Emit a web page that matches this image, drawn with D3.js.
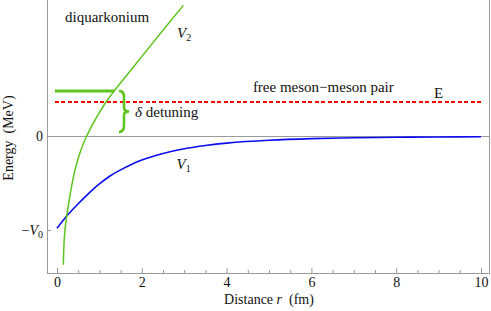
<!DOCTYPE html>
<html>
<head>
<meta charset="utf-8">
<script src="https://cdn.jsdelivr.net/npm/d3@7"></script>
<style>
    html, body { margin: 0; padding: 0; background: #fff; }
    svg text { font-family: "Liberation Serif", "Times New Roman", "DejaVu Serif", serif; fill: #111; }
</style>
</head>
<body>
<svg id="chart" width="491" height="311"></svg>
<script>
// -----------------------------
//  DATA (energies in units of V0)
// -----------------------------
const v1R = [0, 0.25, 0.5, 0.75, 1, 1.25, 1.5, 2, 2.5, 3, 3.5, 4, 5, 6, 7, 8, 9, 10];
const v1E = [-0.98, -0.84, -0.72, -0.61, -0.51, -0.425, -0.36, -0.255, -0.185, -0.135, -0.10, -0.075, -0.045, -0.028, -0.019, -0.013, -0.010, -0.008];

const v2R = [0.15, 0.16, 0.18, 0.21, 0.25, 0.33, 0.425, 0.54, 0.70, 0.94, 1.16, 1.35, 1.76, 2.31, 2.98];
const v2E = [-1.37, -1.20, -1.04, -0.91, -0.79, -0.57, -0.36, -0.18, 0, 0.205, 0.365, 0.48, 0.71, 1.02, 1.39];

const thresholdE = 0.365;        // free meson-meson pair, E
const thresholdR = [-0.05, 10];
const boundE = 0.48;             // diquarkonium level
const boundR = [-0.05, 1.35];

const xMajor = [0, 2, 4, 6, 8, 10];
const xMinor = d3.range(0, 10.01, 0.5).filter((t) => t % 2 !== 0);
const yTicks = [0, -1];

// -----------------------------
//  LAYOUT
// -----------------------------
const svg = d3.select("#chart");
const frame = { left: 47, right: 489, top: 0, bottom: 273 };

const x = d3.scaleLinear().domain([0, 10]).range([57, 481]);
const y = d3.scaleLinear().domain([-1.457, 1.447]).range([frame.bottom, frame.top]);

const green = "#5ec41e";
const blue = "#0c0cf0";
const grey = "#9a9a9a";

// frame + zero line
svg.append("path")
    .attr("d", `M${frame.left},${frame.top}V${frame.bottom}H${frame.right}V${frame.top}`)
    .attr("fill", "none")
    .attr("stroke", grey)
    .attr("stroke-width", 1)
    .attr("shape-rendering", "crispEdges");

svg.append("line")
    .attr("x1", frame.left).attr("x2", frame.right)
    .attr("y1", Math.round(y(0)) + 0.5).attr("y2", Math.round(y(0)) + 0.5)
    .attr("stroke", grey)
    .attr("stroke-width", 1);

// -----------------------------
//  AXES
// -----------------------------
const xAxis = svg.append("g")
    .attr("transform", `translate(0,${frame.bottom})`)
    .call(d3.axisBottom(x).tickValues(xMajor).tickSize(-5).tickPadding(4).tickFormat(d3.format("d")));

svg.append("g")
    .attr("transform", `translate(0,${frame.bottom})`)
    .call(d3.axisBottom(x).tickValues(xMinor).tickSize(-3).tickFormat(""));

const yAxis = svg.append("g")
    .attr("transform", `translate(${frame.left},0)`)
    .call(d3.axisLeft(y).tickValues(yTicks).tickSize(-4).tickPadding(4).tickFormat(""));

svg.selectAll(".domain").remove();
svg.selectAll(".tick line").attr("stroke", grey);
xAxis.selectAll(".tick text")
    .attr("font-size", 14)
    .attr("fill", "#111");

// y tick labels: 0 and -V0
yAxis.selectAll(".tick text").each(function (d) {
    const t = d3.select(this)
        .attr("font-size", 14)
        .attr("fill", "#111")
        .attr("x", -4)
        .attr("dy", "0.35em");
    if (d === 0) {
        t.text("0");
    } else {
        t.text("");
        t.append("tspan").text("\u2212");
        t.append("tspan").attr("font-style", "italic").text("V");
        t.append("tspan").attr("font-size", 10).attr("dy", 3).text("0");
    }
});
svg.selectAll("g").attr("font-family", null);

// axis titles
const xTitle = svg.append("text")
    .attr("x", (x(0) + x(10)) / 2)
    .attr("y", 304)
    .attr("text-anchor", "middle")
    .attr("font-size", 14)
    .style("white-space", "pre");
xTitle.append("tspan").text("Distance ");
xTitle.append("tspan").attr("font-style", "italic").text("r");
xTitle.append("tspan").text("  (fm)");

svg.append("text")
    .attr("transform", `translate(13,${y(0) + 2}) rotate(-90)`)
    .attr("text-anchor", "middle")
    .attr("font-size", 14)
    .style("white-space", "pre")
    .text("Energy  (MeV)");

// -----------------------------
//  CURVES
// -----------------------------
const line = d3.line()
    .x((d) => x(d[0]))
    .y((d) => y(d[1]))
    .curve(d3.curveCatmullRom.alpha(0.5));

svg.append("path")
    .datum(d3.zip(thresholdR, [thresholdE, thresholdE]))
    .attr("d", line)
    .attr("fill", "none")
    .attr("stroke", "#ff0000")
    .attr("stroke-width", 1.6)
    .attr("stroke-dasharray", "4,2.5")
    .attr("shape-rendering", "crispEdges");

svg.append("path")
    .datum(d3.zip(v1R, v1E))
    .attr("d", line)
    .attr("fill", "none")
    .attr("stroke", blue)
    .attr("stroke-width", 1.6);

svg.append("path")
    .datum(d3.zip(v2R, v2E))
    .attr("d", line)
    .attr("fill", "none")
    .attr("stroke", green)
    .attr("stroke-width", 1.5);

svg.append("path")
    .datum(d3.zip(boundR, [boundE, boundE]))
    .attr("d", line)
    .attr("fill", "none")
    .attr("stroke", green)
    .attr("stroke-width", 3);

// curly brace for the detuning
const bx = 119, by0 = y(boundE), by1 = y(boundE) + 41, bw = 10;
const bm = (by0 + by1) / 2, bh = by1 - by0;
svg.append("path")
    .attr("d", `M${bx},${by0}` +
        `Q${bx + bw / 2},${by0} ${bx + bw / 2},${by0 + bh * 0.15}` +
        `L${bx + bw / 2},${bm - bh * 0.1}` +
        `Q${bx + bw / 2},${bm} ${bx + bw},${bm}` +
        `Q${bx + bw / 2},${bm} ${bx + bw / 2},${bm + bh * 0.1}` +
        `L${bx + bw / 2},${by1 - bh * 0.15}` +
        `Q${bx + bw / 2},${by1} ${bx},${by1}`)
    .attr("fill", "none")
    .attr("stroke", green)
    .attr("stroke-width", 2.6);

// -----------------------------
//  LABELS
// -----------------------------
const put = (r, e) => svg.append("text").attr("x", x(r)).attr("y", y(e)).attr("font-size", 15);

put(0.19, 1.216).text("diquarkonium");
put(4.62, 0.465).text("free meson\u2212meson pair");
put(8.89, 0.407).text("E");

const det = put(1.84, 0.202).style("white-space", "pre");
det.append("tspan").attr("font-style", "italic").text("\u03b4");
det.append("tspan").text(" detuning");

function vLabel(r, e, sub) {
    const t = put(r, e);
    t.append("tspan").attr("font-style", "italic").text("V");
    t.append("tspan").attr("font-size", 10).attr("dy", 3).text(sub);
}
vLabel(2.83, 1.043, "2");
vLabel(2.82, -0.346, "1");
</script>
</body>
</html>
